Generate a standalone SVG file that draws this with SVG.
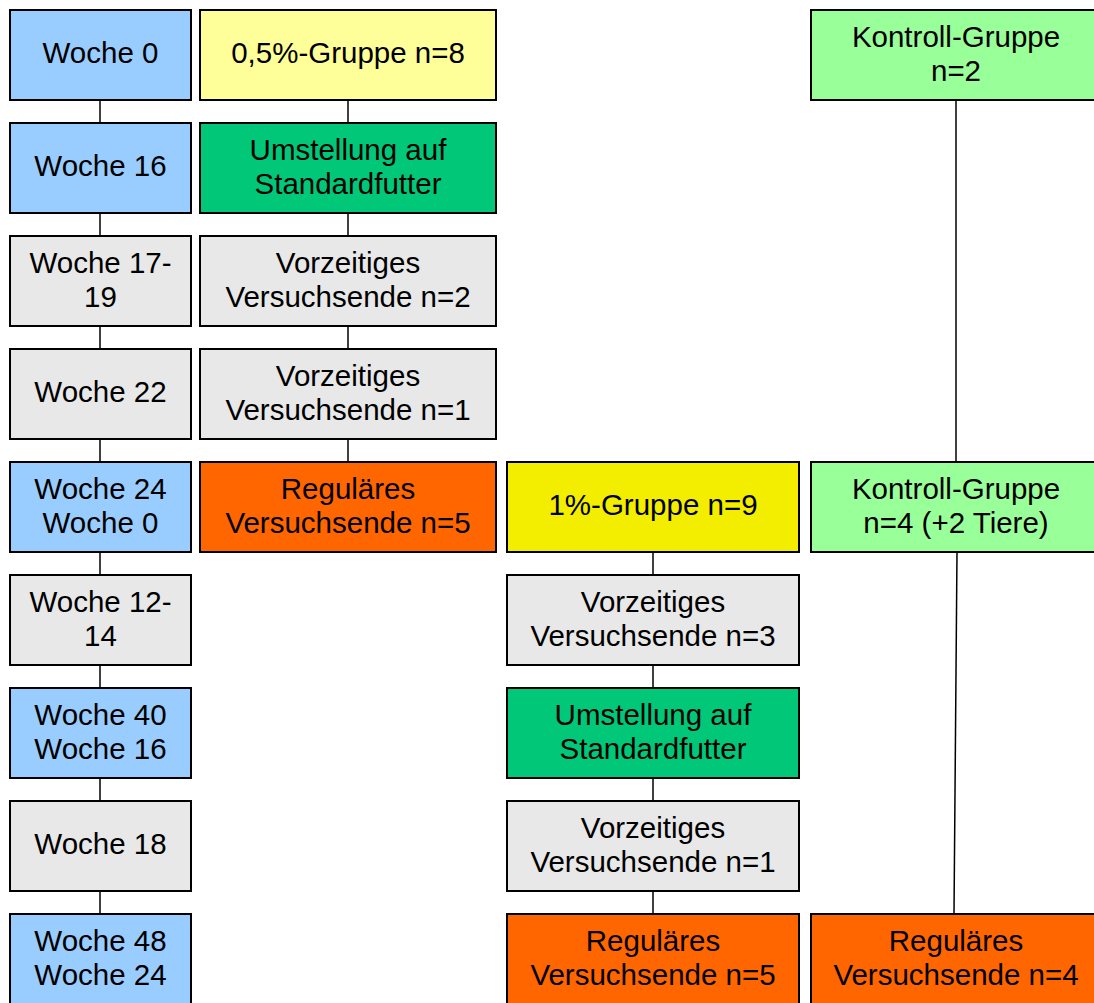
<svg xmlns="http://www.w3.org/2000/svg" width="1094" height="1003" viewBox="0 0 1094 1003">
<style>
.n rect{stroke:#000;stroke-width:2}
.blue{fill:#99CCFF}.ylw{fill:#FFFF99}.grn{fill:#00C878}.gry{fill:#E8E8E8}
.org{fill:#FF6600}.y2{fill:#F3EE00}.lg{fill:#99FF99}
text{font-family:"Liberation Sans",Arial,sans-serif;font-size:29.5px;text-anchor:middle;fill:#000}
.c line{stroke:#000;stroke-width:1.5}
</style>
<rect width="1094" height="1003" fill="#fff"/>
<g class="c" id="connectors">
<line x1="100" y1="100" x2="100" y2="123"/>
<line x1="100" y1="213" x2="100" y2="236"/>
<line x1="100" y1="326" x2="100" y2="349"/>
<line x1="100" y1="439" x2="100" y2="462"/>
<line x1="100" y1="552" x2="100" y2="575"/>
<line x1="100" y1="665" x2="100" y2="688"/>
<line x1="100" y1="778" x2="100" y2="801"/>
<line x1="100" y1="891" x2="100" y2="914"/>
<line x1="348" y1="100" x2="348" y2="123"/>
<line x1="348" y1="213" x2="348" y2="236"/>
<line x1="348" y1="326" x2="348" y2="349"/>
<line x1="348" y1="439" x2="348" y2="462"/>
<line x1="653" y1="552" x2="653" y2="575"/>
<line x1="653" y1="665" x2="653" y2="688"/>
<line x1="653" y1="778" x2="653" y2="801"/>
<line x1="653" y1="891" x2="653" y2="914"/>
<line x1="956" y1="100" x2="956" y2="462"/>
<line x1="957" y1="552" x2="954" y2="914"/>
</g>
<g class="n" id="c1r1"><rect class="blue" x="10" y="10" width="181" height="90"/><text x="100.5" y="63">Woche 0</text></g>
<g class="n" id="c1r2"><rect class="blue" x="10" y="123" width="181" height="90"/><text x="100.5" y="176">Woche 16</text></g>
<g class="n" id="c1r3"><rect class="gry" x="10" y="236" width="181" height="90"/><text x="100.5" y="273">Woche 17-</text><text x="100.5" y="307">19</text></g>
<g class="n" id="c1r4"><rect class="gry" x="10" y="349" width="181" height="90"/><text x="100.5" y="402">Woche 22</text></g>
<g class="n" id="c1r5"><rect class="blue" x="10" y="462" width="181" height="90"/><text x="100.5" y="499">Woche 24</text><text x="100.5" y="533">Woche 0</text></g>
<g class="n" id="c1r6"><rect class="gry" x="10" y="575" width="181" height="90"/><text x="100.5" y="612">Woche 12-</text><text x="100.5" y="646">14</text></g>
<g class="n" id="c1r7"><rect class="blue" x="10" y="688" width="181" height="90"/><text x="100.5" y="725">Woche 40</text><text x="100.5" y="759">Woche 16</text></g>
<g class="n" id="c1r8"><rect class="gry" x="10" y="801" width="181" height="90"/><text x="100.5" y="854">Woche 18</text></g>
<g class="n" id="c1r9"><rect class="blue" x="10" y="914" width="181" height="90"/><text x="100.5" y="951">Woche 48</text><text x="100.5" y="985">Woche 24</text></g>
<g class="n" id="c2r1"><rect class="ylw" x="200" y="10" width="296" height="90"/><text x="348" y="63">0,5%-Gruppe n=8</text></g>
<g class="n" id="c2r2"><rect class="grn" x="200" y="123" width="296" height="90"/><text x="348" y="160">Umstellung auf</text><text x="348" y="194">Standardfutter</text></g>
<g class="n" id="c2r3"><rect class="gry" x="200" y="236" width="296" height="90"/><text x="348" y="273">Vorzeitiges</text><text x="348" y="307">Versuchsende n=2</text></g>
<g class="n" id="c2r4"><rect class="gry" x="200" y="349" width="296" height="90"/><text x="348" y="386">Vorzeitiges</text><text x="348" y="420">Versuchsende n=1</text></g>
<g class="n" id="c2r5"><rect class="org" x="200" y="462" width="296" height="90"/><text x="348" y="499">Reguläres</text><text x="348" y="533">Versuchsende n=5</text></g>
<g class="n" id="c3r5"><rect class="y2" x="507" y="462" width="292" height="90"/><text x="653" y="515">1%-Gruppe n=9</text></g>
<g class="n" id="c3r6"><rect class="gry" x="507" y="575" width="292" height="90"/><text x="653" y="612">Vorzeitiges</text><text x="653" y="646">Versuchsende n=3</text></g>
<g class="n" id="c3r7"><rect class="grn" x="507" y="688" width="292" height="90"/><text x="653" y="725">Umstellung auf</text><text x="653" y="759">Standardfutter</text></g>
<g class="n" id="c3r8"><rect class="gry" x="507" y="801" width="292" height="90"/><text x="653" y="838">Vorzeitiges</text><text x="653" y="872">Versuchsende n=1</text></g>
<g class="n" id="c3r9"><rect class="org" x="507" y="914" width="292" height="90"/><text x="653" y="951">Reguläres</text><text x="653" y="985">Versuchsende n=5</text></g>
<g class="n" id="c4r1"><rect class="lg" x="811" y="10" width="300" height="90"/><text x="956" y="47">Kontroll-Gruppe</text><text x="956" y="81">n=2</text></g>
<g class="n" id="c4r5"><rect class="lg" x="811" y="462" width="300" height="90"/><text x="956" y="499">Kontroll-Gruppe</text><text x="956" y="533">n=4 (+2 Tiere)</text></g>
<g class="n" id="c4r9"><rect class="org" x="811" y="914" width="300" height="90"/><text x="956" y="951">Reguläres</text><text x="956" y="985">Versuchsende n=4</text></g>
</svg>
